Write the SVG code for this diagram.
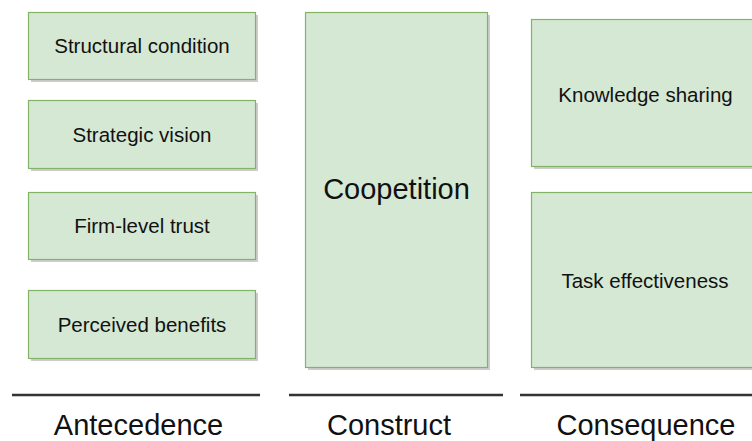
<svg xmlns="http://www.w3.org/2000/svg" width="752" height="441" viewBox="0 0 752 441">
<style>
.box{fill:#d5e8d4;stroke:#82b366;stroke-width:1.2}
.sh{fill:#b8b8b8;opacity:0.7}
.t{font-family:"Liberation Sans",Arial,Helvetica,sans-serif;fill:#111;text-anchor:middle}
.s{font-size:20.5px}
.b{font-size:29px}
.rule{stroke:#333;stroke-width:2.6}
</style>
<rect width="752" height="441" fill="#fff"/>
<g id="structural">
<rect class="sh" x="31" y="15" width="227" height="67"/>
<rect class="box" x="28.5" y="12.5" width="227" height="67"/>
<text class="t s" x="142" y="53">Structural condition</text>
</g>
<g id="strategic">
<rect class="sh" x="31" y="103" width="227" height="68"/>
<rect class="box" x="28.5" y="100.5" width="227" height="68"/>
<text class="t s" x="142" y="142">Strategic vision</text>
</g>
<g id="trust">
<rect class="sh" x="31" y="195" width="227" height="67"/>
<rect class="box" x="28.5" y="192.5" width="227" height="67"/>
<text class="t s" x="142" y="233">Firm-level trust</text>
</g>
<g id="benefits">
<rect class="sh" x="31" y="293" width="227" height="68"/>
<rect class="box" x="28.5" y="290.5" width="227" height="68"/>
<text class="t s" x="142" y="332">Perceived benefits</text>
</g>
<g id="coopetition">
<rect class="sh" x="308" y="15" width="182" height="355"/>
<rect class="box" x="305.5" y="12.5" width="182" height="355"/>
<text class="t b" x="396.5" y="199">Coopetition</text>
</g>
<g id="knowledge">
<rect class="sh" x="534" y="22" width="230" height="147"/>
<rect class="box" x="531.5" y="19.5" width="230" height="147"/>
<text class="t s" x="645.5" y="102">Knowledge sharing</text>
</g>
<g id="task">
<rect class="sh" x="534" y="195" width="230" height="175"/>
<rect class="box" x="531.5" y="192.5" width="230" height="175"/>
<text class="t s" x="645" y="288">Task effectiveness</text>
</g>
<g id="connectors">
<line class="rule" x1="12" y1="395" x2="260" y2="395"/>
<line class="rule" x1="289" y1="395" x2="503" y2="395"/>
<line class="rule" x1="520" y1="395" x2="760" y2="395"/>
</g>
<g id="labels">
<text class="t b" x="138.5" y="435">Antecedence</text>
<text class="t b" x="389" y="435">Construct</text>
<text class="t b" x="646" y="435">Consequence</text>
</g>
</svg>
